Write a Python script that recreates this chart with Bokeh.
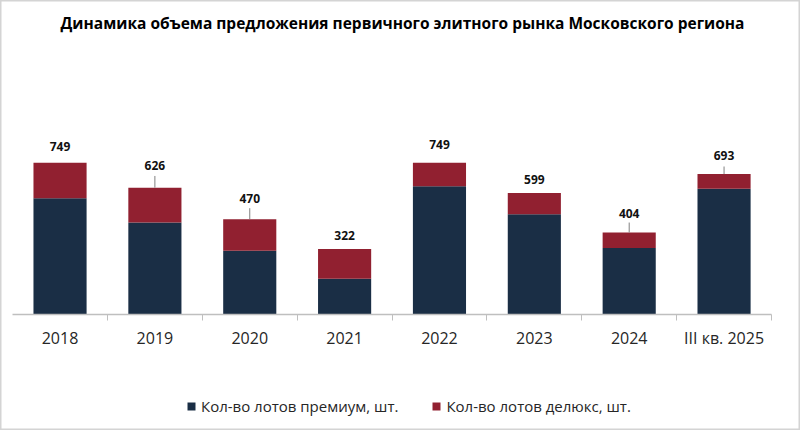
from bokeh.plotting import figure
from bokeh.models import Range1d, FixedTicker, Legend, LegendItem, Label, ColumnDataSource
from bokeh.core.properties import value
from bokeh.embed import file_html
from bokeh.resources import INLINE

# ---- data ----
categories = ["2018", "2019", "2020", "2021", "2022", "2023", "2024", "III кв. 2025"]
premium = [573, 454, 314, 175, 633, 494, 327, 620]
deluxe = [176, 172, 156, 147, 116, 105, 77, 73]
totals = [749, 626, 470, 322, 749, 599, 404, 693]

title_text = "Динамика объема предложения первичного элитного рынка Московского региона"
legend_labels = ["Кол-во лотов премиум, шт.", "Кол-во лотов делюкс, шт."]

# ---- style / layout ----
FONT = "Open Sans"
C_PREM = "#1A2E45"
C_DELX = "#912030"
AXIS_C = "#BFBFBF"
W, H = 800, 430
BASE_PX = 313.7          # baseline position from top (px)
UPP = 4.947              # data units per pixel (vertical)
CAT_PX = 94.86           # px per category
LEFT_PX = 12.1           # px of category edge 0
Y_MAX = BASE_PX * UPP
Y_MIN = -(H - BASE_PX) * UPP
label_off_px = [16.6, 21.7, 21, 14, 18, 14, 19.3, 19]
leader_px = [0, 11.7, 11, 0, 0, 0, 10, 7.6]

n = len(categories)
xs = [i + 0.5 for i in range(n)]

src = ColumnDataSource(dict(x=xs, premium=premium, deluxe=deluxe))

p = figure(width=W, height=H, output_backend="svg", toolbar_location=None,
           x_range=Range1d(-LEFT_PX / CAT_PX, (W - LEFT_PX) / CAT_PX),
           y_range=Range1d(Y_MIN, Y_MAX),
           min_border_left=0, min_border_right=0, min_border_top=0,
           min_border_bottom=0)
p.outline_line_color = "#D4D4D4"
p.outline_line_width = 2
p.grid.visible = False
p.yaxis.visible = False

rs = p.vbar_stack(["premium", "deluxe"], x="x", width=0.56, source=src,
                  color=[C_PREM, C_DELX], line_color=None)

# total labels
lab_y = [t + o * UPP for t, o in zip(totals, label_off_px)]
p.text(x=xs, y=lab_y, text=[str(t) for t in totals], text_align="center",
       text_baseline="middle", text_font=value(FONT), text_font_style="bold",
       text_font_size="12px", text_color="#111111")

# leader lines
lx = [x for x, l in zip(xs, leader_px) if l > 0]
ly0 = [t for t, l in zip(totals, leader_px) if l > 0]
ly1 = [t + l * UPP for t, l in zip(totals, leader_px) if l > 0]
p.segment(x0=lx, y0=ly0, x1=lx, y1=ly1, line_color="#808080", line_width=1)

# x axis, fixed at y=0 inside the frame
ax = p.xaxis[0]
ax.fixed_location = 0
ax.bounds = (0, n)
ax.ticker = FixedTicker(ticks=xs, minor_ticks=list(range(1, n + 1)))
ax.major_label_overrides = {x: c for x, c in zip(xs, categories)}
ax.major_tick_line_color = None
ax.major_tick_out = 0
ax.major_tick_in = 0
ax.minor_tick_line_color = AXIS_C
ax.minor_tick_out = 6
ax.minor_tick_in = 0
ax.axis_line_color = AXIS_C
ax.axis_line_width = 1.5
ax.major_label_standoff = 7
ax.major_label_text_font = FONT
ax.major_label_text_font_size = "16px"
ax.major_label_text_color = "#262626"

# title
p.add_layout(Label(x=402, y=H - 22.5, x_units="screen", y_units="screen",
                   text=title_text, text_align="center", text_baseline="middle",
                   text_font=FONT, text_font_style="bold", text_font_size="15.5px",
                   text_color="#000000"))

# legend
legend = Legend(items=[LegendItem(label=legend_labels[0], renderers=[rs[0]]),
                       LegendItem(label=legend_labels[1], renderers=[rs[1]])],
                orientation="horizontal", location=(186, 14),
                label_text_font=FONT, label_text_font_size="15px",
                label_text_color="#262626", glyph_width=10, glyph_height=10,
                label_standoff=5, spacing=33, border_line_color=None,
                background_fill_alpha=0, margin=0, padding=0)
p.add_layout(legend)

open("out.html", "w").write(file_html(p, INLINE))
